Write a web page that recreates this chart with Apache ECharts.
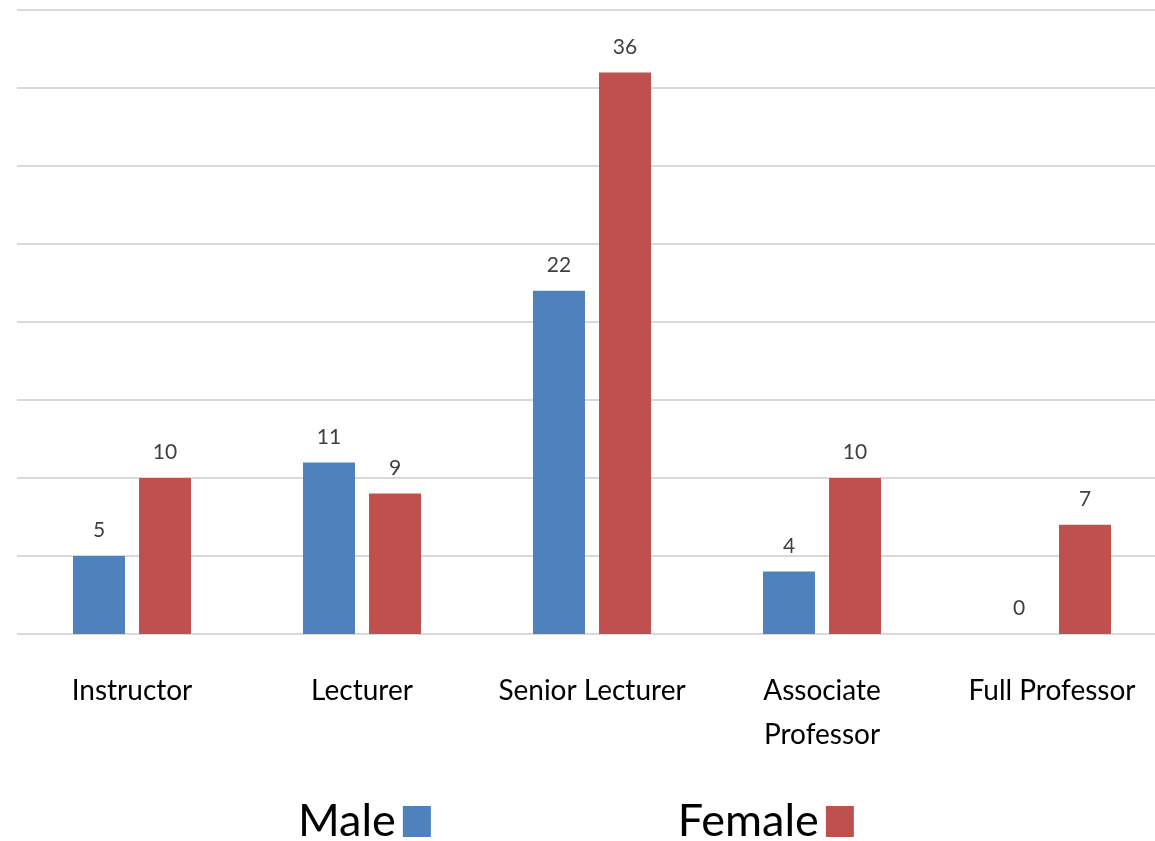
<!DOCTYPE html>
<html>
<head>
<meta charset="utf-8">
<script src="https://cdn.jsdelivr.net/npm/echarts@6/dist/echarts.min.js"></script>
<style>html,body{margin:0;padding:0;background:#fff}#c{width:1155px;height:841px}</style>
</head>
<body>
<div id="c"></div>
<script>
const categories = ['Instructor', 'Lecturer', 'Senior Lecturer', 'Associate\nProfessor', 'Full Professor'];
const maleValues = [5, 11, 22, 4, 0];
const femaleValues = [10, 9, 36, 10, 7];
const seriesNames = ['Male', 'Female'];

const chart = echarts.init(document.getElementById('c'));
const FONT = 'Lato, "Open Sans", sans-serif';
const labelCfg = {
  show: true, position: 'top', distance: 15,
  color: '#404040', fontSize: 21, fontFamily: FONT
};
chart.setOption({
  animation: false,
  backgroundColor: '#fff',
  grid: { left: 17, right: -12, top: 10, bottom: 207, containLabel: false, outerBoundsMode: 'none' },
  legend: {
    data: seriesNames,
    left: 293, top: 794,
    align: 'right',
    icon: 'rect',
    itemWidth: 28, itemHeight: 31,
    itemGap: 247,
    textStyle: { fontSize: 45, color: '#000', fontFamily: FONT, padding: [0, 2, 0, 0] }
  },
  xAxis: {
    type: 'category',
    data: categories,
    axisLine: { show: false },
    axisTick: { show: false },
    axisLabel: {
      interval: 0, margin: 35, fontSize: 28, lineHeight: 44,
      color: '#000', fontFamily: FONT, verticalAlign: 'top'
    }
  },
  yAxis: {
    type: 'value', min: 0, max: 40, interval: 5,
    axisLabel: { show: false },
    axisLine: { show: false },
    axisTick: { show: false },
    splitLine: { lineStyle: { color: '#d9d9d9', width: 2 } }
  },
  series: [
    { name: seriesNames[0], type: 'bar', data: maleValues, barWidth: 52, barGap: '27%',
      itemStyle: { color: '#4F81BD' }, label: labelCfg },
    { name: seriesNames[1], type: 'bar', data: femaleValues, barWidth: 52, barGap: '27%',
      itemStyle: { color: '#C0504D' }, label: labelCfg }
  ]
});
</script>
</body>
</html>
